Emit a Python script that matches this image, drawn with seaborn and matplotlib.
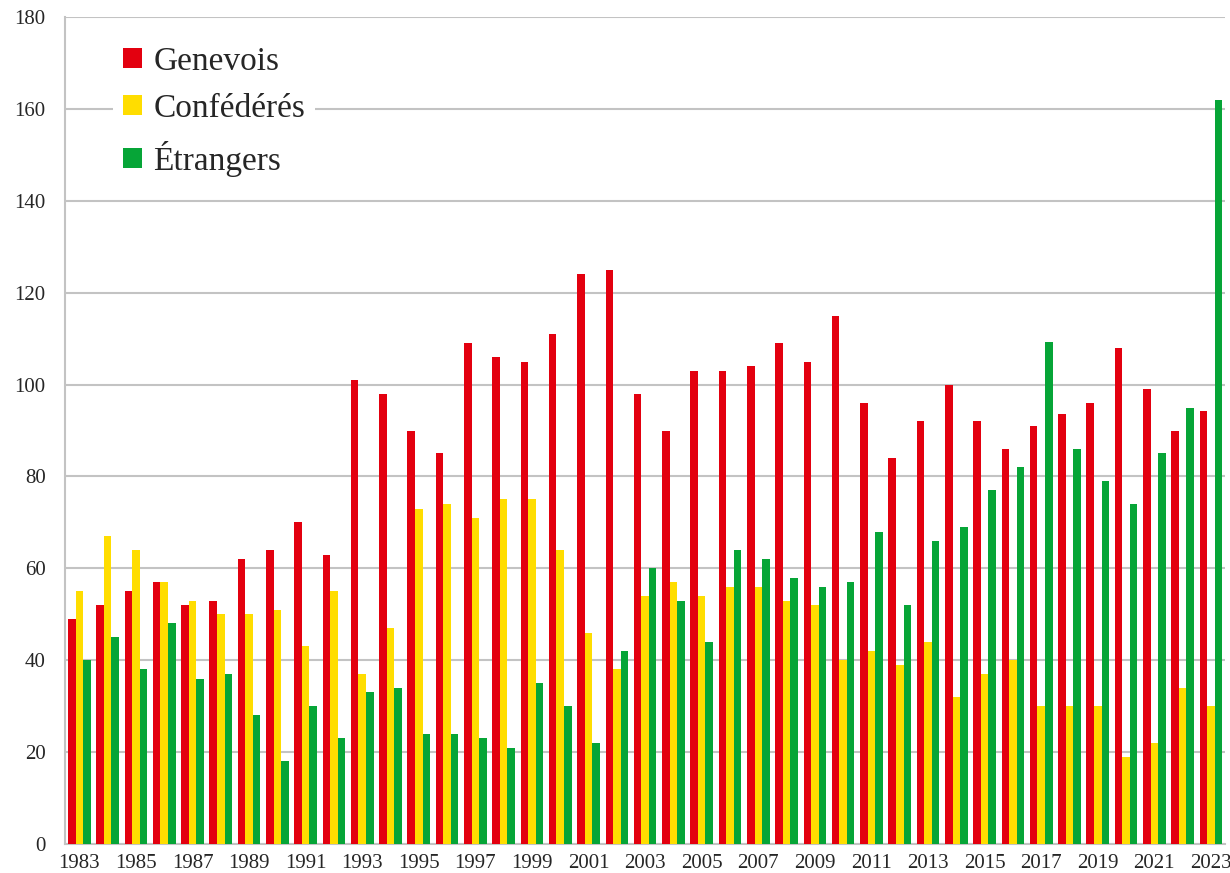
import pandas as pd
import matplotlib
matplotlib.use('Agg')
import matplotlib.pyplot as plt
from matplotlib.ticker import MultipleLocator, FixedLocator
import seaborn as sns

# Data
years = [1983, 1984, 1985, 1986, 1987, 1988, 1989, 1990, 1991, 1992,
         1993, 1994, 1995, 1996, 1997, 1998, 1999, 2000, 2001, 2002,
         2003, 2004, 2005, 2006, 2007, 2008, 2009, 2010, 2011, 2012,
         2013, 2014, 2015, 2016, 2017, 2018, 2019, 2020, 2021, 2022, 2023]
genevois = [49, 52, 55, 57, 52, 53, 62, 64, 70, 63,
            101, 98, 90, 85, 109, 106, 105, 111, 124, 125,
            98, 90, 103, 103, 104, 109, 105, 115, 96, 84,
            92, 100, 92, 86, 91, 93.5, 96, 108, 99, 90, 94.2]
confederes = [55, 67, 64, 57, 53, 50, 50, 51, 43, 55,
              37, 47, 73, 74, 71, 75, 75, 64, 46, 38,
              54, 57, 54, 56, 56, 53, 52, 40, 42, 39,
              44, 32, 37, 40, 30, 30, 30, 19, 22, 34, 30]
etrangers = [40, 45, 38, 48, 36, 37, 28, 18, 30, 23,
             33, 34, 24, 24, 23, 21, 35, 30, 22, 42,
             60, 53, 44, 64, 62, 58, 56, 57, 68, 52,
             66, 69, 77, 82, 109.3, 86, 79, 74, 85, 95, 162]
series_names = ['Genevois', 'Confédérés', 'Étrangers']

# Long format for seaborn
df = pd.DataFrame({'year': [str(y) for y in years],
                   'Genevois': genevois,
                   'Confédérés': confederes,
                   'Étrangers': etrangers})
df_long = df.melt(id_vars='year', value_vars=series_names,
                  var_name='groupe', value_name='valeur')

palette = ['#e3000f', '#ffdd00', '#06a537']
grid_col = '#c3c3c3'

sns.set_style('white')
plt.rcParams['font.family'] = ['Liberation Serif', 'DejaVu Serif']

fig = plt.figure(figsize=(12.3, 8.73), dpi=100)
ax = fig.add_axes([0.053, 0.0332, 0.943, 0.9473])

sns.barplot(data=df_long, x='year', y='valeur', hue='groupe',
            palette=palette, width=0.8, linewidth=0, saturation=1,
            errorbar=None, ax=ax, zorder=3)

ax.set_xlim(-0.5, len(years) - 0.5)
ax.set_ylim(0, 180)
ax.yaxis.set_major_locator(MultipleLocator(20))
ax.grid(axis='y', color=grid_col, linewidth=1.5, zorder=0)
ax.set_axisbelow(True)

# x labels every second year, tick marks at category boundaries
ax.set_xticks(range(len(years)))
ax.set_xticklabels([str(y) if i % 2 == 0 else '' for i, y in enumerate(years)])
ax.xaxis.set_minor_locator(FixedLocator([i - 0.5 for i in range(len(years) + 1)]))
ax.tick_params(axis='x', which='major', length=0, pad=7, labelsize=15)
ax.tick_params(axis='x', which='minor', length=6, width=1.5, color=grid_col, direction='out')
ax.tick_params(axis='y', length=6, width=1.5, color=grid_col, direction='out', pad=8, labelsize=15)

ax.set_xlabel('')
ax.set_ylabel('')
for side in ['top', 'right']:
    ax.spines[side].set_visible(False)
for side in ['left', 'bottom']:
    ax.spines[side].set_color(grid_col)
    ax.spines[side].set_linewidth(1.5)

leg = ax.legend(loc='upper left', bbox_to_anchor=(0.027, 0.997), fontsize=24,
                frameon=True, facecolor='white', edgecolor='none', framealpha=1,
                handlelength=0.55, handleheight=0.55, handletextpad=0.35,
                labelspacing=0.5, borderpad=0.3, fancybox=False)
leg.set_zorder(5)

fig.savefig('out.png', dpi=100)
